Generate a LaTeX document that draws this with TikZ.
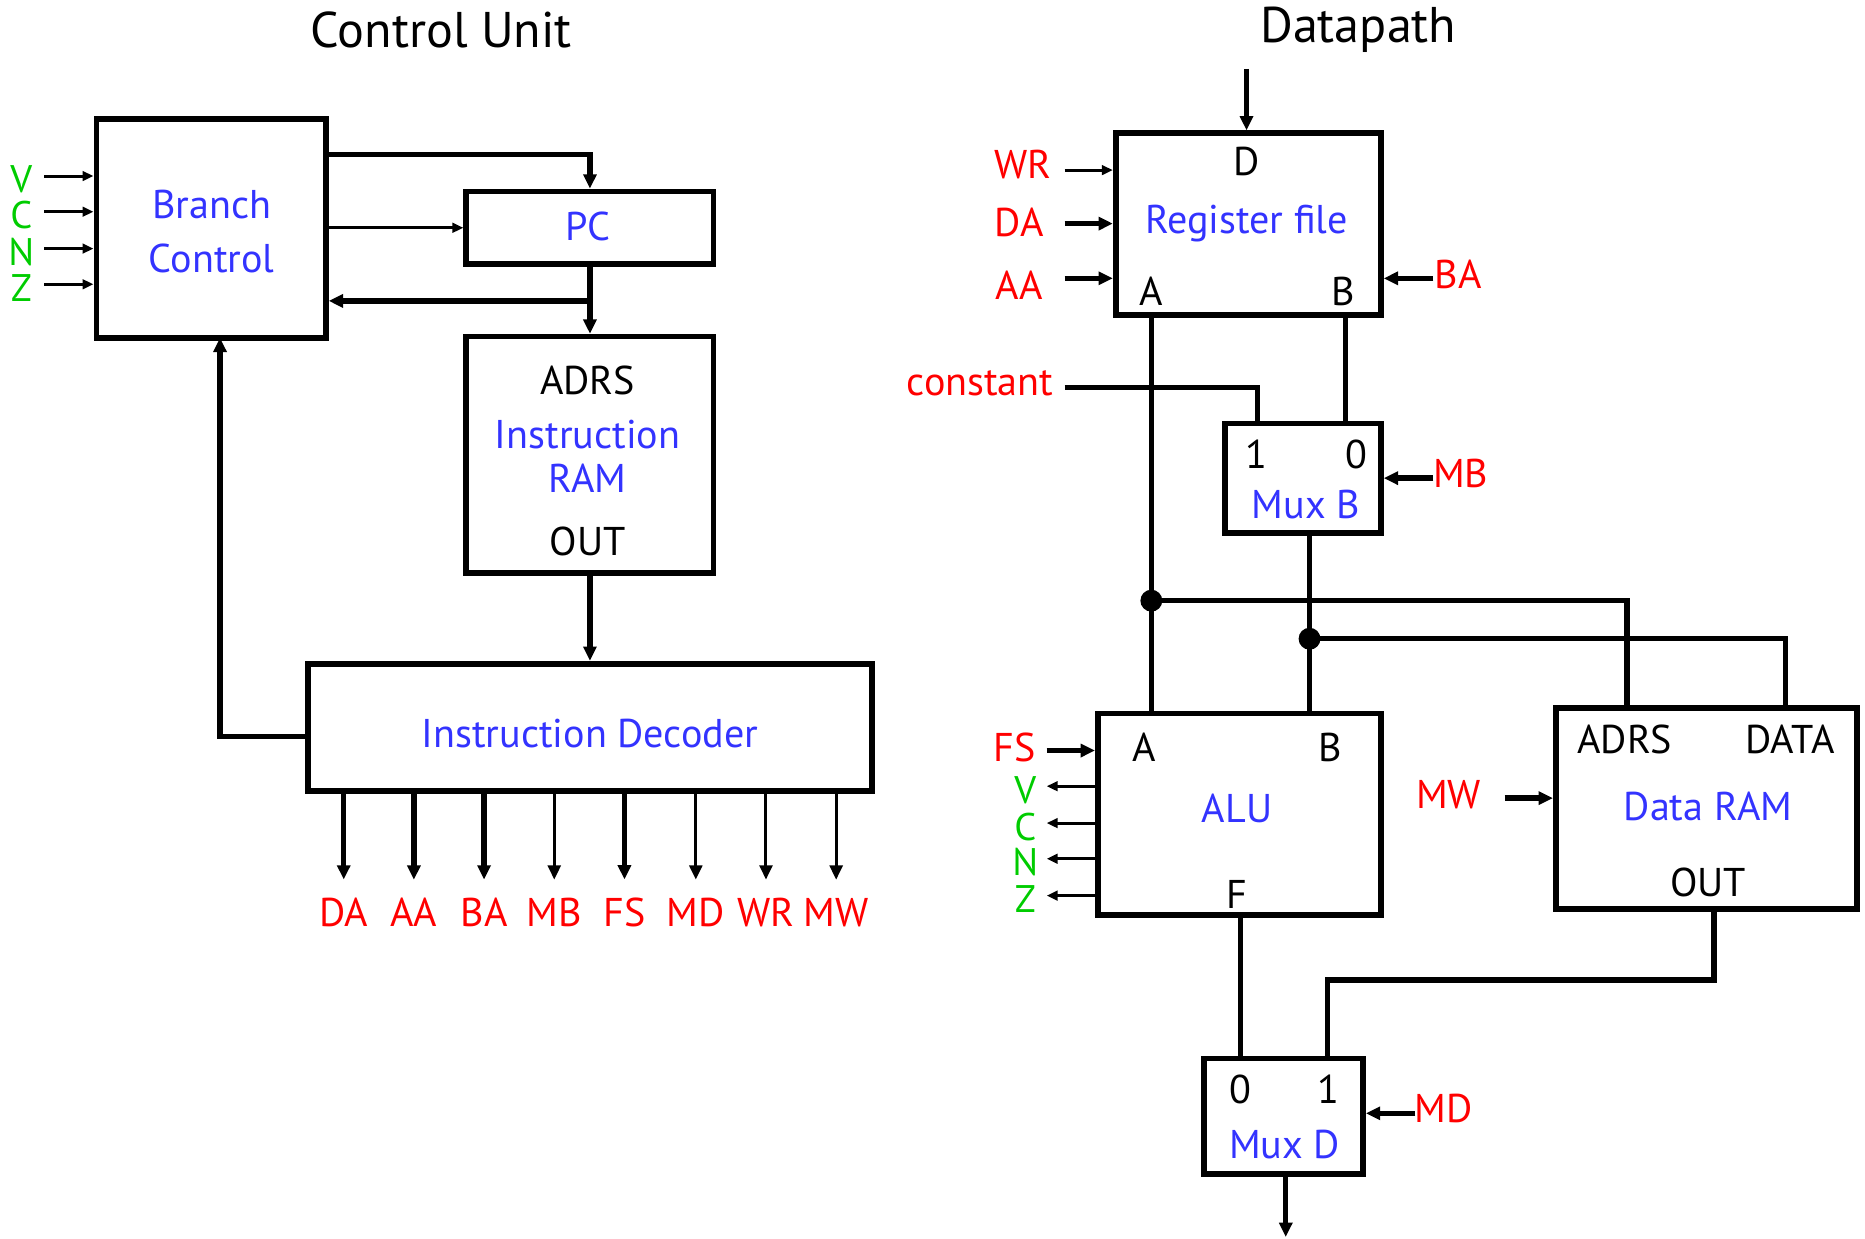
\documentclass[tikz,border=0pt]{standalone}
\usepackage{fontspec}
\setmainfont{PT Sans}
\usetikzlibrary{arrows.meta, fit}
\definecolor{unitblue}{RGB}{51,51,255}
\definecolor{sigred}{RGB}{255,0,0}
\definecolor{flaggreen}{RGB}{0,204,0}

\begin{document}
\begin{tikzpicture}[
    x=0.125mm, y=-0.125mm,
    box/.style={draw, line width=1.7pt, inner sep=0pt},
    port/.style={font=\fontsize{12}{14}\selectfont, inner sep=1pt},
    unitname/.style={port, text=unitblue},
    sigl/.style={port, text=sigred},
    flag/.style={font=\fontsize{11.5}{13}\selectfont, text=flaggreen, inner sep=1pt},
    ttl/.style={font=\fontsize{15}{18}\selectfont},
    bus/.style={line width=1.6pt},
    twire/.style={line width=0.9pt},
    bigtip/.style={-{Triangle[length=1.5mm,width=1.35mm]}},
    smalltip/.style={-{Triangle[length=1.15mm,width=1mm]}}
  ]
  \useasboundingbox (0,0) rectangle (1568,1041);

  \node[ttl] (cutitle) at (371,25) {Control Unit};
  \node[ttl] (dptitle) at (1142,25) {Datapath};

  % control unit
  \node[box, fit={(81,100)(274,284)}] (bc) {};
  \node[unitname] (bcn1) at (178,172) {Branch};
  \node[unitname] (bcn2) at (178,217) {Control};
  \node[box, fit={(392,161)(600,222)}] (pc) {};
  \node[unitname] (pcn) at (494,190) {PC};
  \node[box, fit={(392,283)(600,482)}] (iram) {};
  \node[port] (iadrs) at (494,320) {ADRS};
  \node[unitname] (iramn1) at (494,365) {Instruction};
  \node[unitname] (iramn2) at (494,402) {RAM};
  \node[port] (iout) at (494,455) {OUT};
  \node[box, fit={(259,558)(733,665)}] (dec) {};
  \node[unitname] (declbl) at (496,617) {Instruction Decoder};

  \foreach \fl/\y in {V/148, C/178, N/209, Z/239} {
    \node[flag] (f\fl) at (18,\y+3) {\fl};
    \coordinate (s\fl) at (37,\y);
    \draw[twire, smalltip] (s\fl) -- (s\fl -| bc.west);
  }

  \coordinate (bctop) at (274,130);
  \draw[bus, bigtip] (bctop) -| (pc.north);
  \draw[twire, smalltip] (bc.east |- pc.west) -- (pc.west);
  \draw[bus, bigtip] (pc.south) -- (iram.north);
  \coordinate (pcj) at (496,253);
  \draw[bus, bigtip] (pcj) -- (pcj -| bc.east);
  \draw[bus, bigtip] (iram.south) -- (dec.north);
  \coordinate (decl) at (259,619);
  \coordinate (bcin) at (185,284);
  \draw[bus, bigtip] (decl) -| (bcin);

  \foreach \x/\s/\w in {289/DA/bus, 348/AA/bus, 407/BA/bus, 466/MB/twire,
      525/FS/bus, 585/MD/twire, 644/WR/twire, 703/MW/twire} {
    \coordinate (o\s) at (\x,665);
    \node[sigl] (l\s) at (\x,767) {\s};
    \draw[\w, bigtip, shorten >=1.5mm] (o\s) -- (o\s |- l\s.north);
  }

  % datapath
  \node[box, fit={(938,112)(1161,265)}] (rf) {};
  \node[unitname] (rfn) at (1048,188) {Register file};
  \node[port] (rfd) at (1048,136) {D};
  \node[port] (rfa) at (968,245) {A};
  \node[port] (rfb) at (1129,245) {B};
  \coordinate (din) at (1048,58);
  \draw[bus, bigtip] (din) -- (din |- rf.north);

  \node[sigl] (lwr) at (860,138) {WR};
  \node[sigl] (lda) at (857,187) {DA};
  \node[sigl] (laa) at (857,240) {AA};
  \node[sigl] (lba) at (1226,231) {BA};
  \coordinate (swr) at (895,143);
  \coordinate (sda) at (895,188);
  \coordinate (saa) at (895,234);
  \coordinate (sba) at (1205,234);
  \draw[twire, smalltip] (swr) -- (swr -| rf.west);
  \draw[bus, bigtip] (sda) -- (sda -| rf.west);
  \draw[bus, bigtip] (saa) -- (saa -| rf.west);
  \draw[bus, bigtip] (sba) -- (sba -| rf.east);

  \node[box, fit={(1030,356)(1161,448)}] (muxb) {};
  \node[port] (mb1) at (1056,382) {1};
  \node[port] (mb0) at (1140,382) {0};
  \node[unitname] (mbn) at (1098,424) {Mux B};
  \node[sigl] (lmb) at (1228,398) {MB};
  \coordinate (smb) at (1205,402);
  \draw[bus, bigtip] (smb) -- (smb -| muxb.east);

  \node[sigl] (lcst) at (824,322) {constant};
  \coordinate (scst) at (895,326);
  \coordinate (mbin1) at (1057,356);
  \draw[bus] (scst) -| (mbin1);
  \coordinate (rfouta) at (968,265);
  \coordinate (rfoutb) at (1131,265);
  \draw[bus] (rfoutb) -- (rfoutb |- muxb.north);

  \node[box, fit={(923,600)(1161,769)}] (alu) {};
  \node[unitname] (alun) at (1040,680) {ALU};
  \node[port] (alua) at (962,628) {A};
  \node[port] (alub) at (1118,628) {B};
  \node[port] (aluf) at (1040,752) {F};
  \draw[bus] (rfouta) -- (rfouta |- alu.north);
  \coordinate (mbout) at (1101,448);
  \draw[bus] (mbout) -- (mbout |- alu.north);
  \node[sigl] (lfs) at (853,628) {FS};
  \coordinate (sfs) at (880,631);
  \draw[bus, bigtip] (sfs) -- (sfs -| alu.west);
  \foreach \fl/\y in {V/661, C/692, N/722, Z/753} {
    \node[flag] (g\fl) at (862,\y+3) {\fl};
    \coordinate (e\fl) at (880,\y);
    \draw[twire, smalltip] (e\fl -| alu.west) -- (e\fl);
  }

  \node[box, fit={(1308,595)(1561,764)}] (dram) {};
  \node[unitname] (dramn) at (1436,678) {Data RAM};
  \node[port] (radrsl) at (1366,622) {ADRS};
  \node[port] (rdatal) at (1505,622) {DATA};
  \node[port] (routl) at (1436,742) {OUT};
  \node[sigl] (lmw) at (1218,668) {MW};
  \coordinate (smw) at (1265,671);
  \draw[bus, bigtip] (smw) -- (smw -| dram.west);

  \coordinate (ja) at (968,505);
  \coordinate (jb) at (1101,537);
  \coordinate (radrs) at (1368,595);
  \coordinate (rdata) at (1501,595);
  \draw[bus] (ja) -| (radrs);
  \draw[bus] (jb) -| (rdata);
  \fill (ja) circle[radius=1.15mm];
  \fill (jb) circle[radius=1.15mm];

  \node[box, fit={(1012,890)(1146,987)}] (muxd) {};
  \node[port] (md0) at (1043,916) {0};
  \node[port] (md1l) at (1117,916) {1};
  \node[unitname] (mdn) at (1080,962) {Mux D};
  \coordinate (alufo) at (1043,769);
  \draw[bus] (alufo) -- (alufo |- muxd.north);
  \coordinate (rout) at (1441,764);
  \coordinate (md1) at (1116,890);
  \draw[bus] (rout) -- ++(0,60) -| (md1);
  \node[sigl] (lmd) at (1214,932) {MD};
  \coordinate (smd) at (1190,936);
  \draw[bus, bigtip] (smd) -- (smd -| muxd.east);
  \coordinate (dout) at (1081,1040);
  \draw[bus, bigtip] (muxd.south -| dout) -- (dout);
\end{tikzpicture}
\end{document}
